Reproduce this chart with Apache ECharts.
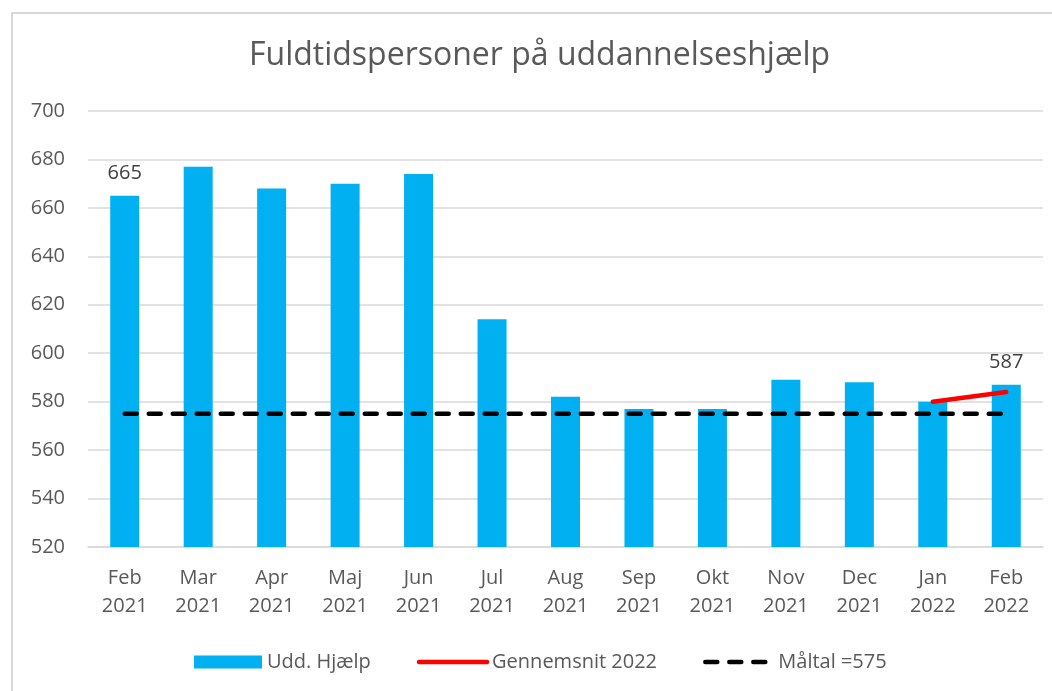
<!DOCTYPE html>
<html>
<head>
<meta charset="utf-8">
<script src="https://cdn.jsdelivr.net/npm/echarts@6/dist/echarts.min.js"></script>
<style>
  html, body { margin: 0; padding: 0; background: #fff; }
  .frame {
    position: absolute; left: 11px; top: 12px; width: 1060px; height: 700px;
    border-left: 2px solid #d9d9d9; border-top: 2px solid #d9d9d9;
  }
  #chart { position: absolute; left: 0; top: 0; width: 1052px; height: 691px; }
</style>
</head>
<body>
<div class="frame"></div>
<div id="chart"></div>
<script>
const months = ['Feb\n2021', 'Mar\n2021', 'Apr\n2021', 'Maj\n2021', 'Jun\n2021', 'Jul\n2021',
  'Aug\n2021', 'Sep\n2021', 'Okt\n2021', 'Nov\n2021', 'Dec\n2021', 'Jan\n2022', 'Feb\n2022']
const uddHjaelp = [665, 677, 668, 670, 674, 614, 582, 577, 577, 589, 588, 580, 587]
const gennemsnit2022 = [null, null, null, null, null, null, null, null, null, null, null, 580, 584]
const maaltal = [575, 575, 575, 575, 575, 575, 575, 575, 575, 575, 575, 575, 575]
const labelledBars = [0, 12]

const font = 'Open Sans'
const redLine = { color: '#FF0000', width: 4.5, cap: 'round' }
const dashLine = { color: '#000000', width: 4.5, type: [12, 12], cap: 'round' }

const chart = echarts.init(document.getElementById('chart'))
chart.setOption({
  animation: false,
  textStyle: { fontFamily: font },
  title: {
    text: 'Fuldtidspersoner på uddannelseshjælp',
    left: 244,
    top: 35,
    textStyle: { fontFamily: font, fontSize: 32, fontWeight: 'normal', color: '#595959' }
  },
  legend: {
    top: 652,
    left: 194,
    padding: 0,
    itemWidth: 68,
    itemHeight: 13,
    itemGap: 46,
    textStyle: { fontFamily: font, fontSize: 20, color: '#595959' },
    data: [
      { name: 'Udd. Hjælp', icon: 'rect' },
      { name: 'Gennemsnit 2022', itemStyle: { opacity: 0 }, lineStyle: redLine },
      { name: 'Måltal =575', itemStyle: { opacity: 0 }, lineStyle: dashLine }
    ]
  },
  grid: { left: 88, right: 9, top: 111, bottom: 144 },
  xAxis: {
    type: 'category',
    data: months,
    axisLine: { lineStyle: { color: '#d9d9d9', width: 1.5 } },
    axisTick: { show: false },
    axisLabel: { fontFamily: font, fontSize: 20, color: '#595959', lineHeight: 28, margin: 17 }
  },
  yAxis: {
    type: 'value',
    min: 520,
    max: 700,
    interval: 20,
    axisLine: { show: false },
    axisTick: { show: false },
    axisLabel: { fontFamily: font, fontSize: 20, color: '#595959', margin: 23 },
    splitLine: { lineStyle: { color: '#d9d9d9', width: 1.5 } }
  },
  series: [
    {
      name: 'Udd. Hjælp',
      type: 'bar',
      barWidth: 29,
      itemStyle: { color: '#00B0F0' },
      data: uddHjaelp.map((v, i) => ({
        value: v,
        label: {
          show: labelledBars.includes(i),
          position: 'top',
          distance: 12,
          fontFamily: font,
          fontSize: 20,
          color: '#404040'
        }
      }))
    },
    {
      name: 'Gennemsnit 2022',
      type: 'line',
      symbol: 'none',
      itemStyle: { color: '#FF0000' },
      lineStyle: redLine,
      data: gennemsnit2022
    },
    {
      name: 'Måltal =575',
      type: 'line',
      symbol: 'none',
      itemStyle: { color: '#000000' },
      lineStyle: dashLine,
      data: maaltal
    }
  ]
})
</script>
</body>
</html>
